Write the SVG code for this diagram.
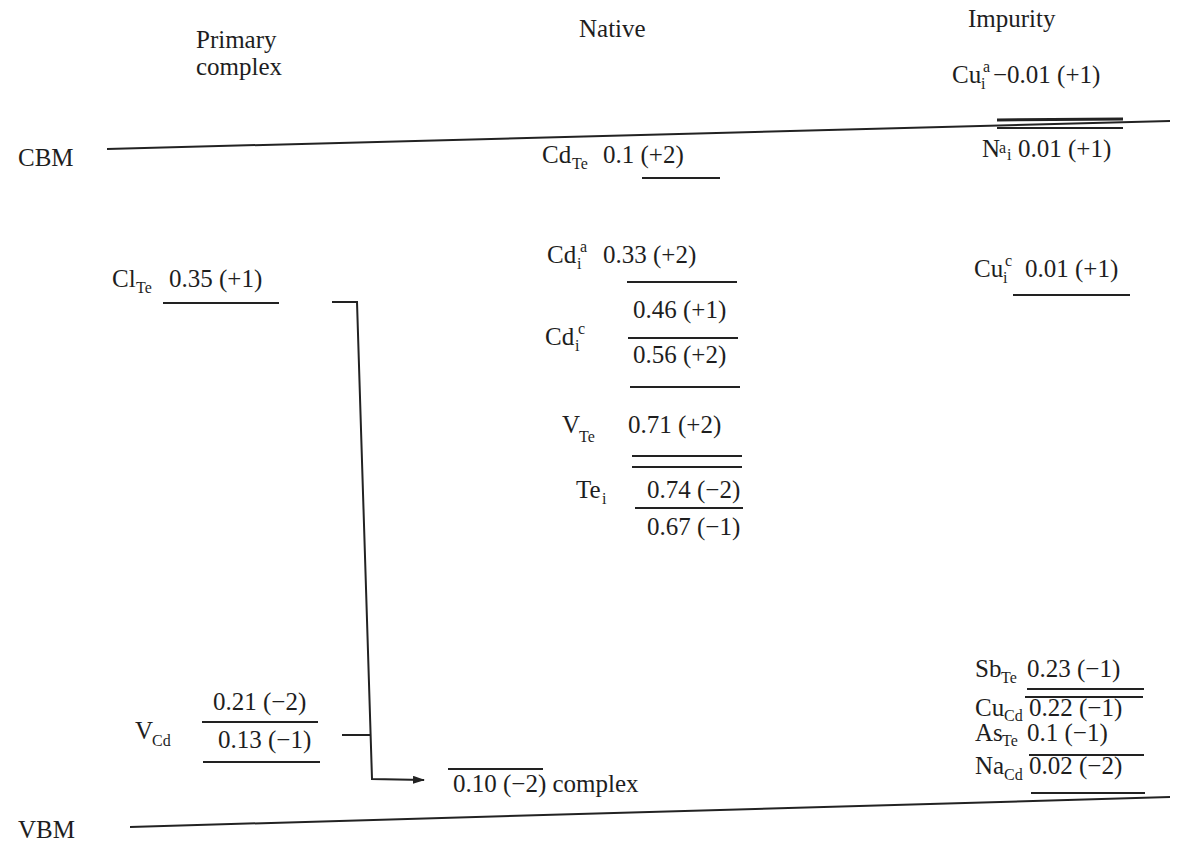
<svg xmlns="http://www.w3.org/2000/svg" width="1178" height="843" viewBox="0 0 1178 843">
<style>
text{font-family:"Liberation Serif","Times New Roman",serif;fill:#1e1e1e;font-size:25px}
.s{font-size:16px}
.lv{stroke:#222;stroke-width:2;fill:none}
.bd{stroke:#222;stroke-width:2;fill:none}
</style>
<defs>
<marker id="ah" markerWidth="12" markerHeight="8" refX="11" refY="4" orient="auto" markerUnits="userSpaceOnUse">
<path d="M0,0 L12,4 L0,8 z" fill="#222"/>
</marker>
</defs>
<rect width="1178" height="843" fill="#fff"/>
<g id="headers">
<text x="196" y="48">Primary</text>
<text x="196" y="75">complex</text>
<text x="579" y="37">Native</text>
<text x="968" y="27">Impurity</text>
</g>
<g id="cbm">
<text x="18" y="166">CBM</text>
<line class="bd" x1="107" y1="149" x2="1170" y2="121"/>
</g>
<g id="vbm">
<text x="18" y="838">VBM</text>
<line class="bd" x1="130" y1="827" x2="1170" y2="797"/>
</g>
<g id="cl-te">
<text x="112" y="287">Cl</text><text class="s" x="136" y="293">Te</text>
<text x="169" y="287">0.35 (+1)</text>
<line class="lv" x1="163" y1="303" x2="279" y2="303"/>
</g>
<g id="v-cd">
<text x="135" y="739">V</text><text class="s" x="152" y="746">Cd</text>
<text x="213" y="710">0.21 (−2)</text>
<line class="lv" x1="202" y1="722" x2="318" y2="722"/>
<text x="218" y="748">0.13 (−1)</text>
<line class="lv" x1="203" y1="762" x2="320" y2="762"/>
</g>
<g id="complex">
<line class="lv" x1="448" y1="769" x2="543" y2="769"/>
<text x="453" y="792">0.10 (−2) complex</text>
</g>
<g id="cd-te">
<text x="542" y="163">Cd</text><text class="s" x="572" y="169">Te</text>
<text x="603" y="163">0.1 (+2)</text>
<line class="lv" x1="642" y1="178" x2="720" y2="178"/>
</g>
<g id="cd-i-a">
<text x="547" y="263">Cd</text><text class="s" x="577" y="269">i</text><text class="s" x="580" y="252">a</text>
<text x="603" y="263">0.33 (+2)</text>
<line class="lv" x1="627" y1="282" x2="737" y2="282"/>
</g>
<g id="cd-i-c">
<text x="545" y="345">Cd</text><text class="s" x="575" y="351">i</text><text class="s" x="578" y="334">c</text>
<text x="633" y="318">0.46 (+1)</text>
<line class="lv" x1="628" y1="338" x2="738" y2="338"/>
<text x="633" y="363">0.56 (+2)</text>
<line class="lv" x1="630" y1="387" x2="740" y2="387"/>
</g>
<g id="v-te">
<text x="562" y="433">V</text><text class="s" x="579" y="442">Te</text>
<text x="628" y="433">0.71 (+2)</text>
<line class="lv" x1="632" y1="456" x2="742" y2="456"/>
</g>
<g id="te-i">
<line class="lv" x1="632" y1="467" x2="742" y2="467"/>
<text x="576" y="498">Te</text><text class="s" x="602" y="504">i</text>
<text x="647" y="498">0.74 (−2)</text>
<line class="lv" x1="635" y1="508" x2="743" y2="508"/>
<text x="647" y="535">0.67 (−1)</text>
</g>
<g id="cu-i-a">
<text x="952" y="83">Cu</text><text class="s" x="981" y="89">i</text><text class="s" x="983" y="72">a</text>
<text x="993" y="83">−0.01 (+1)</text>
<line class="lv" x1="997" y1="120" x2="1123" y2="119" style="stroke-width:3"/>
</g>
<g id="na-i">
<line class="lv" x1="997" y1="128" x2="1123" y2="128"/>
<text x="982" y="157">N</text><text class="s" x="999" y="153">a</text><text class="s" x="1007" y="160">i</text>
<text x="1018" y="157">0.01 (+1)</text>
</g>
<g id="cu-i-c">
<text x="974" y="277">Cu</text><text class="s" x="1003" y="283">i</text><text class="s" x="1005" y="266">c</text>
<text x="1025" y="277">0.01 (+1)</text>
<line class="lv" x1="1013" y1="295" x2="1130" y2="295"/>
</g>
<g id="sb-te">
<text x="975" y="677">Sb</text><text class="s" x="1001" y="683">Te</text>
<text x="1027" y="677">0.23 (−1)</text>
<line class="lv" x1="1027" y1="689" x2="1144" y2="689"/>
</g>
<g id="cu-cd">
<line class="lv" x1="1025" y1="697" x2="1143" y2="697"/>
<text x="975" y="716">Cu</text><text class="s" x="1004" y="721">Cd</text>
<text x="1029" y="716">0.22 (−1)</text>
</g>
<g id="as-te">
<text x="975" y="741">As</text><text class="s" x="1002" y="746">Te</text>
<text x="1027" y="741">0.1 (−1)</text>
<line class="lv" x1="1029" y1="755" x2="1144" y2="755"/>
</g>
<g id="na-cd">
<text x="975" y="774">Na</text><text class="s" x="1004" y="780">Cd</text>
<text x="1029" y="774">0.02 (−2)</text>
<line class="lv" x1="1031" y1="793" x2="1145" y2="793"/>
</g>
<g id="connectors">
<polyline class="lv" points="332,302 357,302 372,779 424,780" marker-end="url(#ah)"/>
<line class="lv" x1="342" y1="735" x2="370" y2="735"/>
</g>
</svg>
